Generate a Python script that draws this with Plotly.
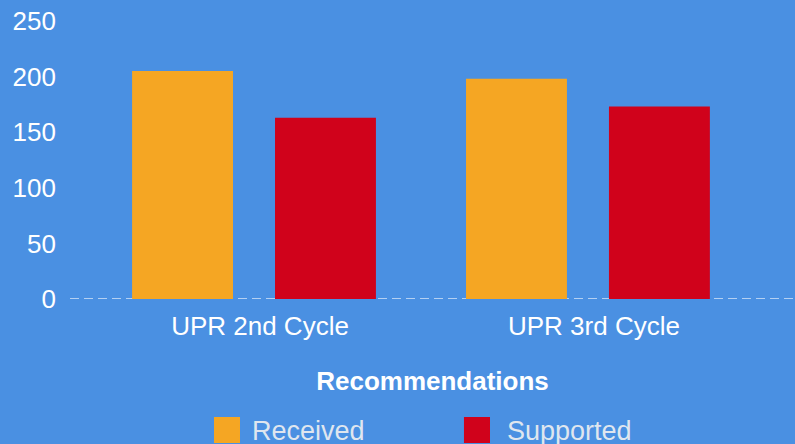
import plotly.graph_objects as go

categories = ["UPR 2nd Cycle", "UPR 3rd Cycle"]
series_names = ["Received", "Supported"]
received = [205, 198]
supported = [163, 173]
series_colors = ["#F5A623", "#D0021B"]
y_ticks = [0, 50, 100, 150, 200, 250]
axis_title = "Recommendations"

BG = "#4A90E2"
FONT = "Liberation Sans, Arial, sans-serif"

fig = go.Figure()
for name, vals, col in zip(series_names, [received, supported], series_colors):
    fig.add_trace(go.Bar(x=categories, y=vals, name=name, marker=dict(color=col, line=dict(width=0)),
                         showlegend=False))

fig.update_layout(
    width=795, height=444,
    margin=dict(l=70, r=0, t=21, b=145, pad=0),
    paper_bgcolor=BG, plot_bgcolor=BG,
    barmode="group", bargap=0.144, bargroupgap=0.294,
    font=dict(family=FONT, color="white", size=26),
    xaxis=dict(
        type="category", range=[-0.551, 1.62], showgrid=False, zeroline=False, showline=False,
        ticks="", tickfont=dict(size=26, color="white"), ticklabelstandoff=9, ticklabelshift=6,
        title=dict(text="<b>" + axis_title + "</b>", font=dict(size=26, color="white"), standoff=31),
        fixedrange=True,
    ),
    yaxis=dict(
        range=[0, 250], tickvals=y_ticks, showgrid=False, zeroline=False, showline=False,
        ticks="", tickfont=dict(size=26, color="white"), ticklabelstandoff=13,
        fixedrange=True,
    ),
    shapes=[
        dict(type="line", xref="paper", yref="y", x0=0, x1=1, y0=0, y1=0,
             line=dict(color="#d8e5f7", width=1.5, dash="9px,5px"), layer="below"),
    ],
)

# manual legend
leg_sq = [(0.1986, 0.2345), (0.5434, 0.5793)]
leg_txt = [0.2483, 0.6005]
for (x0, x1), tx, name, col in zip(leg_sq, leg_txt, series_names, series_colors):
    fig.add_shape(type="rect", xref="paper", yref="paper", x0=x0, x1=x1, y0=-0.518, y1=-0.4245,
                  fillcolor=col, line=dict(width=0))
    fig.add_annotation(xref="paper", yref="paper", x=tx, y=-0.475, xanchor="left", yanchor="middle",
                       text=name, showarrow=False, font=dict(size=27, color="#dfe6ef", family=FONT))

fig.write_html("out.html", config={"displayModeBar": False},
               post_script="document.body.style.margin='0';document.body.style.overflow='hidden';")
